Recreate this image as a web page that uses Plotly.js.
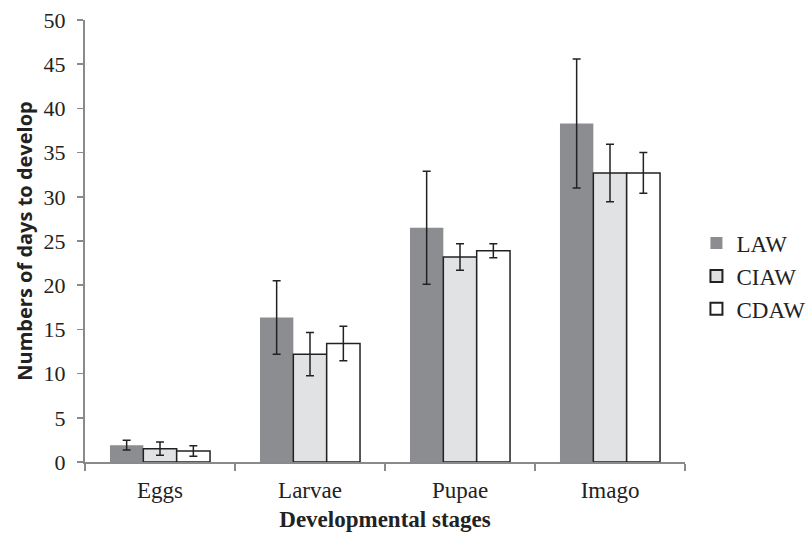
<!DOCTYPE html>
<html><head><meta charset="utf-8">
<script src="https://cdn.plot.ly/plotly-3.0.1.min.js"></script>
<style>html,body{margin:0;padding:0;background:#fff}</style>
</head><body>
<div id="chart" style="width:807px;height:536px"></div>
<script>
const stages = ["Eggs", "Larvae", "Pupae", "Imago"];
const lawValues = [1.9, 16.35, 26.5, 38.3];
const lawErrors = [0.55, 4.15, 6.4, 7.3];
const ciawValues = [1.5, 12.2, 23.2, 32.7];
const ciawErrors = [0.75, 2.45, 1.5, 3.25];
const cdawValues = [1.25, 13.4, 23.9, 32.7];
const cdawErrors = [0.6, 1.95, 0.8, 2.3];
const yTicks = [0, 5, 10, 15, 20, 25, 30, 35, 40, 45, 50];

function series(name, vals, errs, fill, lineW) {
  return {
    type: "bar", name: name, x: stages, y: vals,
    marker: {color: fill, line: {color: "#222222", width: lineW}},
    error_y: {type: "data", array: errs, visible: true, color: "#222222", thickness: 1.5, width: 4}
  };
}
const data = [
  series("LAW", lawValues, lawErrors, "#8c8d90", 0),
  series("CIAW", ciawValues, ciawErrors, "#e1e2e4", 1.5),
  series("CDAW", cdawValues, cdawErrors, "#ffffff", 1.5)
];
const serif = "Liberation Serif";
const layout = {
  width: 807, height: 536,
  margin: {l: 85, r: 122, t: 20, b: 74},
  paper_bgcolor: "#fff", plot_bgcolor: "#fff",
  barmode: "group", bargap: 0.333, bargroupgap: 0,
  font: {family: serif, size: 22, color: "#222"},
  xaxis: {
    type: "category", showgrid: false, showline: true, linecolor: "#8a8a8a", linewidth: 2,
    ticks: "outside", tickson: "boundaries", ticklen: 7, tickcolor: "#8a8a8a", tickwidth: 1.5,
    ticklabelstandoff: 6,
    tickfont: {family: serif, size: 23, color: "#222"},
    title: {text: "<b>Developmental stages</b>", font: {family: serif, size: 23, color: "#222"}, standoff: 9},
    zeroline: false
  },
  yaxis: {
    range: [0, 50], tickvals: yTicks, showgrid: false, showline: true, linecolor: "#8a8a8a", linewidth: 2,
    ticks: "outside", ticklen: 6, tickcolor: "#8a8a8a", tickwidth: 1.5,
    ticklabelstandoff: 7,
    tickfont: {family: serif, size: 22, color: "#222"},
    title: {text: "<b>Numbers of days to develop</b>", font: {family: "Open Sans", size: 20, color: "#222"}, standoff: 6},
    zeroline: false
  },
  showlegend: true,
  legend: {xref: "container", x: 0.863, xanchor: "left", yref: "container", y: 0.485, yanchor: "middle",
           font: {family: serif, size: 23, color: "#222"},
           itemwidth: 30, itemsizing: "constant", tracegroupgap: 6, bgcolor: "rgba(0,0,0,0)"}
};
Plotly.newPlot("chart", data, layout, {displayModeBar: false, staticPlot: true});
</script>
</body></html>
